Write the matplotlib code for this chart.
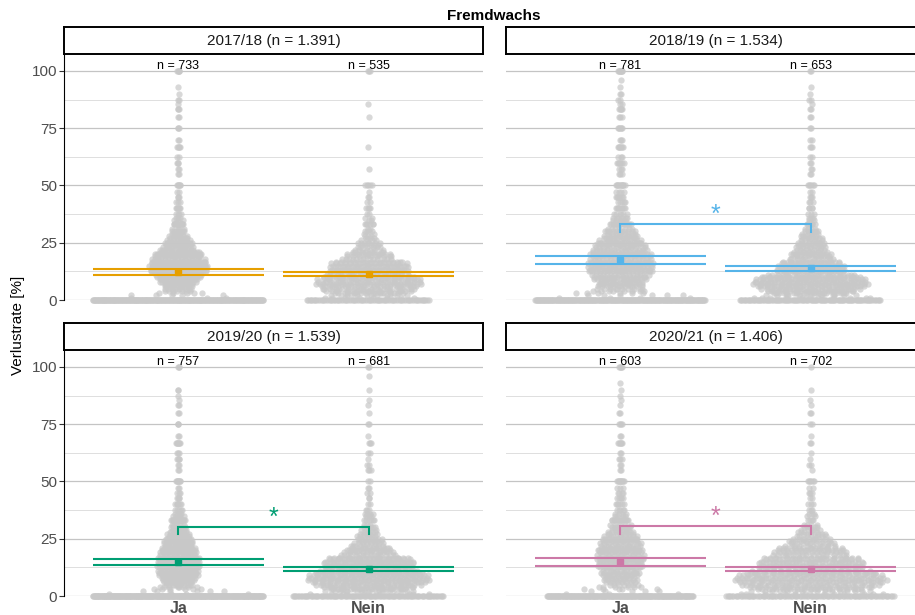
import numpy as np
import matplotlib
matplotlib.use("Agg")
import matplotlib.pyplot as plt

plt.rcParams['font.family'] = ['Liberation Sans', 'DejaVu Sans']

# ---------------------------------------------------------------- data
seasons = ["2017/18", "2018/19", "2019/20", "2020/21"]
season_n = [1391, 1534, 1539, 1406]
groups = ["Ja", "Nein"]

# loss-rate levels [%] and number of fields observed at each level
loss_levels = [0, 1, 2, 3, 4, 5, 6, 7, 8, 9, 10, 11, 12.5, 13, 14.3, 15, 16, 16.7,
               18, 19, 20, 21, 22, 23, 24, 25, 26, 27, 28, 29, 30, 31, 33.3, 35, 36,
               37.5, 40, 42.9, 45, 47, 50, 55, 57.1, 60, 62.5, 66.7, 70, 75, 80, 83.3,
               85.7, 87.5, 90, 93, 96, 100]

counts_1718_ja = [266, 3, 5, 5, 7, 9, 10, 11, 14, 15, 16, 17, 29, 16, 21, 19, 15, 25,
                  18, 15, 26, 13, 12, 10, 9, 16, 7, 6, 6, 5, 7, 4, 12, 3, 3,
                  4, 6, 3, 3, 2, 6, 2, 2, 3, 2, 5, 2, 3, 2, 3,
                  1, 2, 1, 1, 0, 5]
counts_1718_nein = [80, 8, 12, 17, 21, 23, 25, 26, 26, 25, 24, 22, 22, 14, 19, 18, 14, 19,
                    13, 11, 12, 8, 7, 6, 5, 7, 4, 3, 3, 2, 4, 2, 6, 2, 2,
                    2, 4, 2, 2, 1, 5, 0, 1, 0, 0, 1, 0, 0, 1, 0,
                    1, 0, 0, 0, 0, 3]
counts_1819_ja = [245, 4, 6, 6, 8, 10, 12, 13, 14, 15, 16, 16, 24, 13, 19, 17, 13, 20,
                  16, 17, 23, 15, 14, 13, 12, 19, 10, 10, 9, 9, 11, 7, 16, 5, 6,
                  6, 9, 5, 6, 4, 12, 3, 3, 7, 3, 7, 3, 6, 3, 5,
                  2, 2, 2, 1, 1, 8]
counts_1819_nein = [109, 11, 14, 19, 24, 29, 30, 31, 32, 31, 30, 25, 22, 13, 18, 17, 13, 18,
                    12, 11, 12, 9, 8, 8, 8, 9, 6, 6, 5, 5, 6, 4, 6, 2, 3,
                    3, 4, 3, 3, 2, 6, 2, 2, 2, 2, 3, 2, 2, 2, 2,
                    1, 2, 1, 1, 0, 2]
counts_1920_ja = [301, 4, 6, 6, 8, 10, 11, 13, 14, 16, 19, 16, 22, 12, 16, 15, 12, 21,
                  13, 14, 18, 12, 11, 11, 10, 16, 8, 7, 7, 6, 8, 5, 18, 4, 4,
                  5, 7, 4, 3, 2, 8, 2, 2, 4, 3, 7, 2, 3, 2, 2,
                  1, 1, 2, 0, 0, 3]
counts_1920_nein = [104, 11, 15, 21, 24, 29, 31, 32, 33, 32, 31, 27, 29, 17, 23, 22, 18, 24,
                    15, 13, 13, 11, 9, 8, 7, 8, 6, 5, 4, 4, 5, 3, 6, 3, 4,
                    3, 2, 2, 2, 2, 2, 3, 2, 1, 2, 3, 1, 2, 1, 1,
                    1, 0, 1, 0, 1, 2]
counts_2021_ja = [213, 3, 5, 5, 6, 7, 8, 9, 10, 11, 11, 11, 17, 9, 12, 11, 9, 18,
                  12, 12, 17, 11, 11, 10, 10, 16, 8, 7, 7, 6, 8, 5, 14, 4, 4,
                  5, 6, 5, 4, 3, 10, 2, 2, 3, 2, 6, 2, 4, 2, 1,
                  1, 1, 1, 1, 0, 5]
counts_2021_nein = [100, 12, 16, 23, 28, 31, 32, 33, 33, 32, 30, 28, 27, 16, 22, 21, 16, 23,
                    17, 16, 17, 13, 11, 10, 9, 10, 7, 6, 5, 5, 5, 4, 4, 2, 3,
                    3, 3, 2, 3, 2, 6, 1, 2, 1, 1, 2, 1, 2, 2, 1,
                    1, 0, 1, 0, 0, 1]

counts_ja = [counts_1718_ja, counts_1819_ja, counts_1920_ja, counts_2021_ja]
counts_nein = [counts_1718_nein, counts_1819_nein, counts_1920_nein, counts_2021_nein]

# group means with 95 % confidence limits [%]
mean_ja = [12.4, 17.5, 14.9, 14.9]
ci_low_ja = [11.1, 15.9, 13.4, 13.3]
ci_high_ja = [13.7, 19.1, 16.2, 16.5]
mean_nein = [11.3, 13.9, 11.7, 11.8]
ci_low_nein = [10.3, 12.8, 10.7, 10.8]
ci_high_nein = [12.2, 15.0, 12.7, 12.7]

# significance bracket height per season (None = not significant)
bracket_y = [None, 33.2, 30.2, 30.5]

season_colors = ["#E69F00", "#56B4E9", "#009E73", "#CC79A7"]

# ---------------------------------------------------------------- layout
W, H, DPI = 915, 615, 100
fig = plt.figure(figsize=(W / DPI, H / DPI), dpi=DPI)
fig.patch.set_facecolor("white")

col_left = [64, 506]
panel_w = 419
row_top = [54, 350]
panel_h = 246
strip_h = 27
YMAX = 107.4
XLIM = (0.4, 2.6)
SPREAD = 0.45


def van_der_corput(n):
    seq = np.zeros(n)
    for i in range(n):
        k, denom, v = i + 1, 1.0, 0.0
        while k:
            denom *= 2
            k, rem = divmod(k, 2)
            v += rem / denom
        seq[i] = v
    return seq


def quasirandom_offsets(vals, max_width, adjust=0.5):
    """Offsets spread by a van der Corput sequence, scaled by the kernel density."""
    n = len(vals)
    sd = np.std(vals, ddof=1)
    iqr = np.subtract(*np.percentile(vals, [75, 25])) / 1.34
    spread = min(sd, iqr) if min(sd, iqr) > 0 else sd
    bw = adjust * 0.9 * spread * n ** -0.2
    levels, inverse = np.unique(vals, return_inverse=True)
    weights = np.bincount(inverse)
    dens = np.exp(-0.5 * ((levels[:, None] - levels[None, :]) / bw) ** 2) @ weights
    dens = dens / dens.max()
    order = np.argsort(vals, kind="stable")
    u = np.empty(n)
    u[order] = van_der_corput(n)
    return (u - 0.5) * 2 * max_width * dens[inverse]


def fig_rect(left, top, width, height):
    return [left / W, 1 - (top + height) / H, width / W, height / H]


major = [0, 25, 50, 75, 100]
minor = [12.5, 37.5, 62.5, 87.5]

for k, season in enumerate(seasons):
    r, c = divmod(k, 2)
    ax = fig.add_axes(fig_rect(col_left[c], row_top[r], panel_w, panel_h))
    ax.set_xlim(*XLIM)
    ax.set_ylim(0, YMAX)
    ax.set_facecolor("white")
    for s in ["top", "right", "bottom"]:
        ax.spines[s].set_visible(False)
    for yv in major:
        ax.axhline(yv, color="#c4c4c4", lw=0.9, zorder=0)
    for yv in minor:
        ax.axhline(yv, color="#dedede", lw=0.7, zorder=0)

    if c == 0:
        ax.spines["left"].set_linewidth(0.8)
        ax.spines["left"].set_color("black")
        ax.set_yticks(major)
        ax.set_yticklabels([str(v) for v in major])
        ax.tick_params(axis="y", length=3.5, width=0.8, color="#333333",
                       labelsize=11, labelcolor="#4d4d4d", pad=1.5)
    else:
        ax.spines["left"].set_visible(False)
        ax.set_yticks([])

    if r == 1:
        ax.set_xticks([1, 2])
        ax.set_xticklabels(groups, fontweight="bold")
        ax.tick_params(axis="x", length=0, labelsize=11.5, labelcolor="#4d4d4d", pad=3.5)
    else:
        ax.set_xticks([])

    col = season_colors[k]
    samples = [np.repeat(np.array(loss_levels, dtype=float), counts_ja[k]),
               np.repeat(np.array(loss_levels, dtype=float), counts_nein[k])]
    n_largest = max(len(v) for v in samples)
    stats = [(mean_ja[k], ci_low_ja[k], ci_high_ja[k]),
             (mean_nein[k], ci_low_nein[k], ci_high_nein[k])]

    for g, vals in enumerate(samples):
        centre = g + 1
        # spread width varies with group size within the season
        dx = quasirandom_offsets(vals, SPREAD * len(vals) / n_largest)
        ax.scatter(centre + dx, vals, s=20.5, color="#c8c8c8", alpha=0.7,
                   linewidths=0, clip_on=False, zorder=2)
        ax.text(centre, 102.3, f"n = {len(vals)}", ha="center", va="center",
                fontsize=9, color="black", zorder=6)

        m, lo, hi = stats[g]
        ax.hlines([lo, hi], centre - SPREAD, centre + SPREAD, colors=col, lw=1.5, zorder=4)
        ax.plot([centre], [m], marker="s", ms=4.6, color=col, mec=col, zorder=5)

    if bracket_y[k] is not None:
        yb = bracket_y[k]
        ax.plot([1, 1, 2, 2], [yb - 3.3, yb, yb, yb - 3.3], color=col, lw=1.5,
                solid_joinstyle="miter", zorder=4)
        ax.text(1.5, yb + 0.9, "*", ha="center", va="baseline", fontsize=18,
                color=col, zorder=5)

    # facet strip
    sax = fig.add_axes(fig_rect(col_left[c], row_top[r] - strip_h, panel_w, strip_h))
    sax.set_xticks([])
    sax.set_yticks([])
    sax.set_facecolor("white")
    for s in sax.spines.values():
        s.set_linewidth(1.4)
        s.set_color("black")
    total = f"{season_n[k]:,}".replace(",", ".")
    sax.text(0.5, 0.5, f"{season} (n = {total})", ha="center", va="center",
             fontsize=11, color="#1a1a1a", transform=sax.transAxes)

fig.text(494 / W, 1 - 16.5 / H, "Fremdwachs", ha="center", va="center",
         fontsize=11, fontweight="bold")
fig.text(18 / W, 1 - 325 / H, "Verlustrate [%]", ha="center", va="center",
         rotation=90, fontsize=11)

fig.savefig("out.png", dpi=DPI)
